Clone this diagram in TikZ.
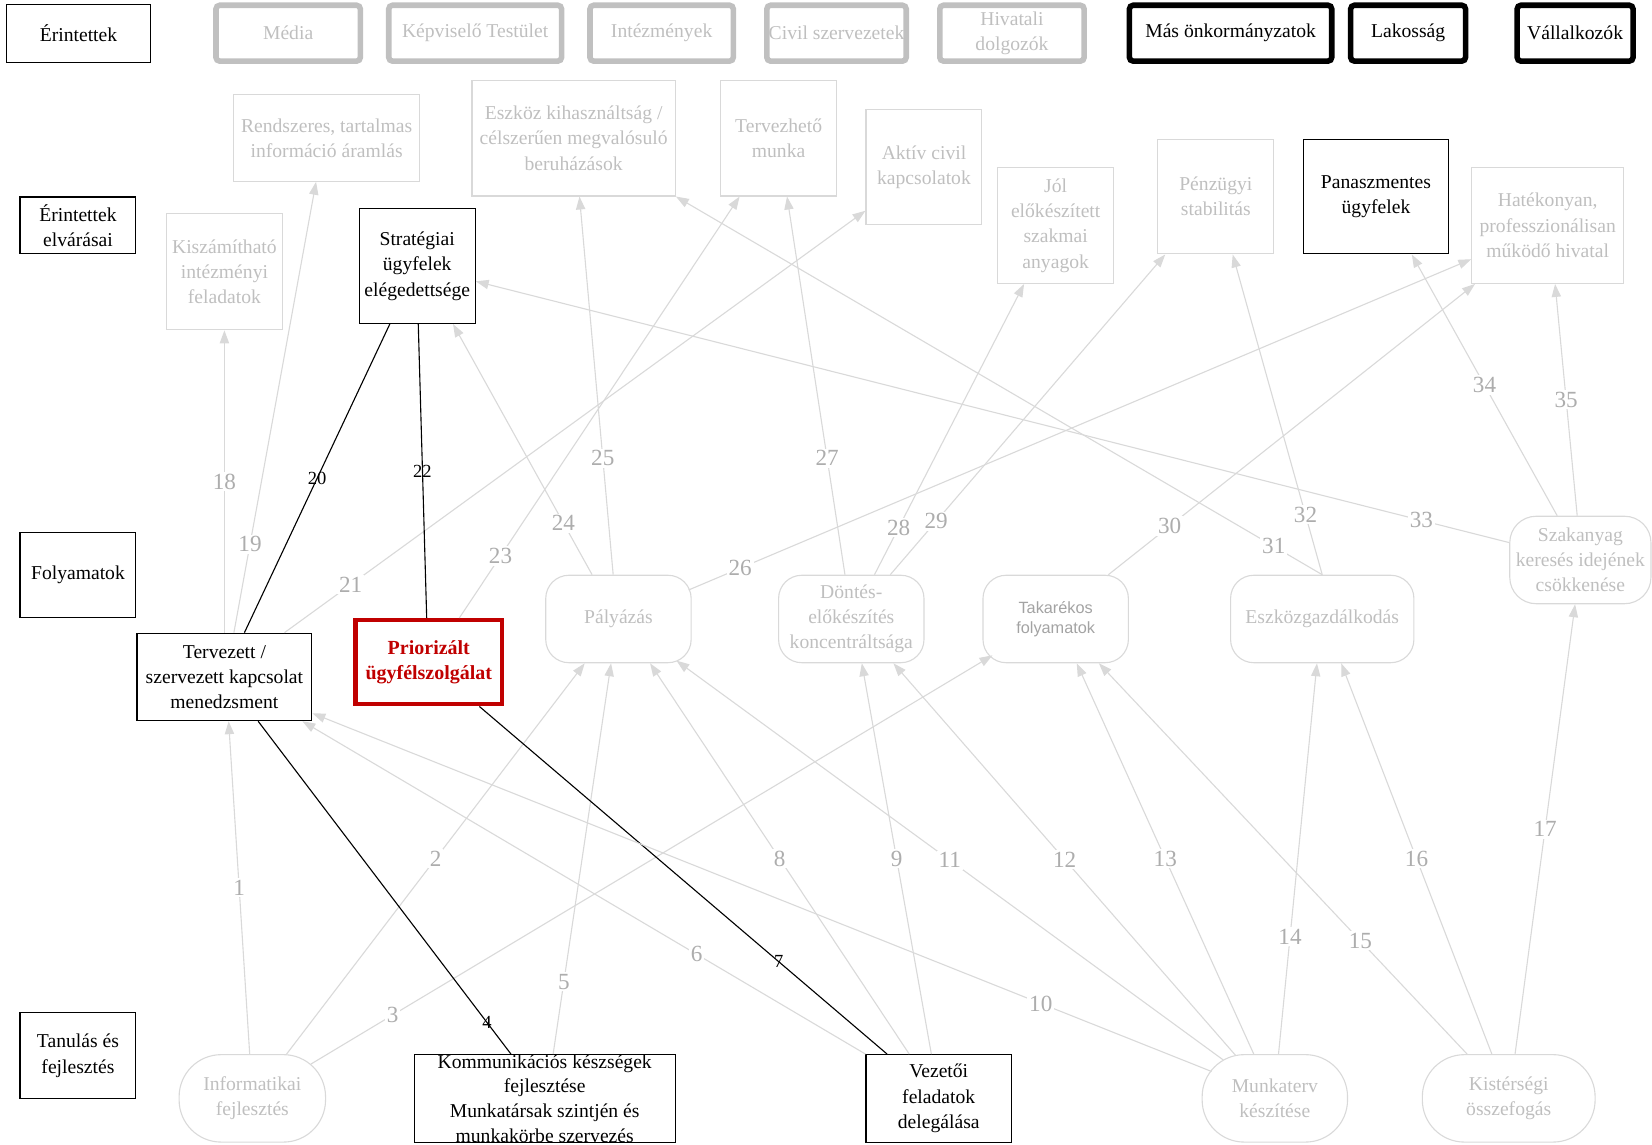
\documentclass[tikz,border=0pt]{standalone}
\usepackage{fontspec}
\setmainfont{Liberation Serif}
\newfontfamily\arialfont{Liberation Sans}
\usetikzlibrary{arrows.meta,calc}
\definecolor{lgray}{HTML}{D9D9D9}
\definecolor{tgray}{HTML}{BFBFBF}
\definecolor{ngray}{HTML}{ADADAD}
\definecolor{sgray}{HTML}{C0C0C0}
\definecolor{sansgray}{HTML}{A3A3A3}
\definecolor{pred}{HTML}{C00000}

\begin{document}
\begin{tikzpicture}[x=0.02cm,y=-0.02cm,
  sz/.style 2 args={minimum width=#1*0.02cm,minimum height=#2*0.02cm},
  base/.style={align=center,inner sep=1pt,font=\fontsize{10.6}{13.66}\selectfont},
  catbox/.style={base,draw=black,line width=0.6pt},
  stkg/.style={base,draw=sgray,text=tgray,line width=3pt,rounded corners=2pt},
  stkb/.style={base,draw=black,text=black,line width=3pt,rounded corners=2pt},
  expg/.style={base,draw=lgray,text=tgray,line width=0.6pt},
  expb/.style={base,draw=black,text=black,line width=0.6pt},
  proc/.style={base,draw=lgray,text=tgray,line width=0.6pt,rounded corners=0.44cm},
  pill/.style={base,draw=lgray,text=tgray,line width=0.6pt,rounded corners=0.8cm},
  gline/.style={draw=lgray,line width=0.6pt,-{Triangle[length=7pt,width=5pt]}},
  bline/.style={draw=black,line width=0.6pt},
  glab/.style={fill=white,text=ngray,inner sep=1pt,font=\fontsize{12.5}{14}\selectfont},
  blab/.style={text=black,inner sep=0pt,font=\fontsize{10}{12}\selectfont}
]
\useasboundingbox (0,0) rectangle (1568,1086);

% perspective labels on the left
\node[catbox,sz={137}{55}] (c1) at (74.5,31.5) {Érintettek};
\node[catbox,sz={110}{54}] (c2) at (74,214) {Érintettek\\elvárásai};
\node[catbox,sz={110}{81}] (c3) at (74,545.5) {Folyamatok};
\node[catbox,sz={110}{82}] (c4) at (74,1002) {Tanulás és\\fejlesztés};

% stakeholders
\node[stkg,sz={137}{53}] (s1) at (273.5,31.5) {Média};
\node[stkg,sz={164}{53}] (s2) at (451,31.5) {Képviselő Testület};
\node[stkg,sz={136}{53}] (s3) at (628,31.5) {Intézmények};
\node[stkg,sz={132}{53}] (s4) at (794,31.5) {Civil szervezetek};
\node[stkg,sz={137}{53}] (s5) at (960.5,31.5) {Hivatali\\dolgozók};
\node[stkb,sz={192}{53}] (s6) at (1168,31.5) {Más önkormányzatok};
\node[stkb,sz={109}{53}] (s7) at (1336.5,31.5) {Lakosság};
\node[stkb,sz={110}{53}] (s8) at (1495,31.5) {Vállalkozók};

% expectations
\node[expg,sz={176}{82}] (e1) at (310,131) {Rendszeres, tartalmas\\információ áramlás};
\node[expg,sz={193}{110}] (e2) at (544.5,131) {Eszköz kihasználtság /\\célszerűen megvalósuló\\beruházások};
\node[expg,sz={110}{110}] (e3) at (739,131) {Tervezhető\\munka};
\node[expg,sz={110}{109}] (e4) at (877,158.5) {Aktív civil\\kapcsolatok};
\node[expg,sz={110}{110}] (e5) at (1002,214) {Jól\\előkészített\\szakmai\\anyagok};
\node[expg,sz={110}{109}] (e6) at (1154,186.5) {Pénzügyi\\stabilitás};
\node[expb,sz={138}{109}] (e7) at (1306,186.5) {Panaszmentes\\ügyfelek};
\node[expg,sz={144}{110}] (e8) at (1469,214) {Hatékonyan,\\professzionálisan\\működő hivatal};
\node[expg,sz={110}{110}] (e9) at (213,258) {Kiszámítható\\intézményi\\feladatok};
\node[expb,sz={110}{109}] (e10) at (396,252.5) {Stratégiai\\ügyfelek\\elégedettsége};

% processes
\node[expb,sz={166}{83}] (p1) at (213,642.5) {Tervezett /\\szervezett kapcsolat\\menedzsment};
\node[base,draw=pred,text=pred,line width=2.3pt,sz={139}{80},
      font=\fontsize{10.8}{13.66}\selectfont\bfseries] (p2) at (407,628.5) {Priorizált\\ügyfélszolgálat};
\node[proc,sz={138}{83}] (p3) at (587,587.5) {Pályázás};
\node[proc,sz={138}{83}] (p4) at (808,587.5) {Döntés-\\előkészítés\\koncentráltsága};
\node[proc,sz={138}{83},text=sansgray,font=\arialfont\fontsize{8.8}{10.8}\selectfont] (p5) at (1002,587.5) {Takarékos\\folyamatok};
\node[proc,sz={174}{83}] (p6) at (1255,587.5) {Eszközgazdálkodás};
\node[proc,sz={134}{83},rounded corners=0.5cm] (p7) at (1500,531.5) {Szakanyag\\keresés idejének\\csökkenése};

% learning and growth
\node[pill,sz={139}{83}] (l1) at (239.5,1042.5) {Informatikai\\fejlesztés};
\node[expb,sz={248}{83}] (l2) at (517,1042.5) {};
\node[base,text=black,font=\fontsize{10.6}{13.3}\selectfont] (l2t) at (l2) {Kommunikációs készségek\\fejlesztése\\Munkatársak szintjén és\\munkakörbe szervezés};
\node[expb,sz={138}{83}] (l3) at (891,1042.5) {Vezetői\\feladatok\\delegálása};
\node[pill,sz={138}{83}] (l4) at (1210,1042.5) {Munkaterv\\készítése};
\node[pill,sz={164}{83}] (l5) at (1432,1042.5) {Kistérségi\\összefogás};

% links from learning to processes
\draw[gline] ($(l1.north)+(-2.5,0)$) -- node[glab]{1} ($(p1.south)+(4,0)$);
\draw[gline] ($(l1.north)+(32.5,0)$) -- node[glab]{2} ($(p3.south)+(-32,0)$);
\draw[gline] ($(l1.center)+(55.5,-32.5)$) -- node[glab,pos=.12]{3} ($(p5.center)+(-60,34.5)$);
\draw[bline] ($(p1.south)+(32,0)$) -- node[blab,pos=.905]{4} ($(l2.north)+(-32,0)$);
\draw[gline] ($(l2.north)+(8,0)$) -- node[glab,pos=.185]{5} ($(p3.south)+(-7,0)$);
\draw[gline] (l3.north west) -- node[glab,pos=.30]{6} ($(p1.south)+(74,0)$);
\draw[bline] ($(p2.south)+(48,0)$) -- node[blab,pos=.734]{7} ($(l3.north)+(-49,0)$);
\draw[gline] ($(l3.north)+(-28,0)$) -- node[glab]{8} ($(p3.south)+(30,0)$);
\draw[gline] ($(l3.north)+(-7,0)$) -- node[glab]{9} ($(p4.south)+(10,0)$);
\draw[gline] ($(l4.center)+(-60,-25.5)$) -- node[glab,pos=.19]{10} ($(p1.east)+(0,34.5)$);
\draw[gline] ($(l4.center)+(-49,-36.5)$) -- node[glab]{11} ($(p3.center)+(55,39.5)$);
\draw[gline] ($(l4.north)+(-37,1.5)$) -- node[glab]{12} ($(p4.south)+(40,0)$);
\draw[gline] ($(l4.north)+(-20,0)$) -- node[glab]{13} ($(p5.south)+(20,0)$);
\draw[gline] ($(l4.north)+(3.5,0)$) -- node[glab,pos=.30]{14} ($(p6.south)+(-5,0)$);
\draw[gline] ($(l5.north)+(-39.5,0)$) -- node[glab,pos=.29]{15} ($(p5.south)+(41,0)$);
\draw[gline] ($(l5.north)+(-16,0)$) -- node[glab]{16} ($(p6.south)+(18,0)$);
\draw[gline] ($(l5.north)+(6,0)$) -- node[glab]{17} ($(p7.south)+(-5,0)$);

% links from processes to expectations
\draw[gline] (p1.north) -- node[glab]{18} (e9.south);
\draw[gline] ($(p1.north)+(9,0)$) -- node[glab,pos=.196]{19} ($(e1.south)+(-10,0)$);
\draw[bline] ($(p1.north)+(19,0)$) -- node[blab]{20} ($(e10.south)+(-26,0)$);
\draw[gline] ($(p1.north)+(57,0)$) -- node[glab,pos=.114]{21} ($(e4.west)+(0,41.5)$);
\draw[bline] ($(p2.north)+(-2,0)$) -- node[blab]{22} ($(e10.south)+(1,0)$);
\draw[gline] ($(p2.north)+(29,0)$) -- node[glab,pos=.147]{23} ($(e3.south)+(-37,0)$);
\draw[gline] ($(p3.north)+(-25,0)$) -- node[glab,pos=.206]{24} ($(e10.south)+(34,0)$);
\draw[gline] ($(p3.north)+(-5,0)$) -- node[glab,pos=.308]{25} ($(e2.south)+(5.5,0)$);
\draw[gline] ($(p3.east)+(-3,-27.5)$) -- node[glab,pos=.066]{26} ($(e8.west)+(0,32)$);
\draw[gline] ($(p4.north)+(-6,0)$) -- node[glab,pos=.308]{27} ($(e3.south)+(8,0)$);
\draw[gline] ($(p4.north)+(22,0)$) -- node[glab,pos=.162]{28} ($(e5.south)+(-30,0)$);
\draw[gline] ($(p4.north)+(37,0)$) -- node[glab,pos=.167]{29} ($(e6.south)+(-48,0)$);
\draw[gline] ($(p5.north)+(50,0)$) -- node[glab,pos=.167]{30} ($(e8.south)+(-69,0)$);
\draw[gline] (p6.north) -- node[glab,pos=.075]{31} (e2.south east);
\draw[gline] (p6.north) -- node[glab,pos=.187]{32} ($(e6.south)+(16,0)$);
\draw[gline] ($(p7.west)+(0,-16.5)$) -- node[glab,pos=.085]{33} ($(e10.east)+(0,14.5)$);
\draw[gline] ($(p7.north)+(-22,0)$) -- node[glab]{34} ($(e7.south)+(34,0)$);
\draw[gline] ($(p7.north)+(-3,0)$) -- node[glab]{35} ($(e8.south)+(7,0)$);
\end{tikzpicture}
\end{document}
